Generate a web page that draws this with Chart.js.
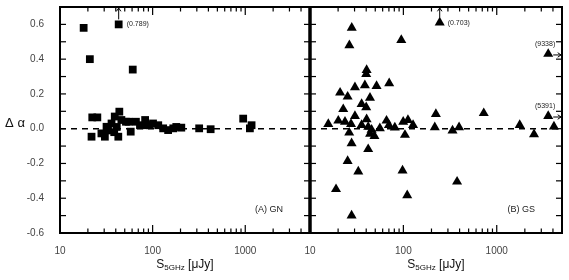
<!DOCTYPE html>
<html>
<head>
<meta charset="utf-8">
<script src="https://cdn.jsdelivr.net/npm/chart.js@4.4.1/dist/chart.umd.min.js"></script>
<style>
  body { margin: 0; background: #fff; }
  #wrap { position: relative; width: 569px; height: 280px; }
  #wrap canvas { position: absolute; left: 0; top: 0; }
</style>
</head>
<body>
<div id="wrap">
  <canvas id="chart-gn" width="569" height="280" style="width:569px;height:280px"></canvas>
  <canvas id="chart-gs" width="569" height="280" style="width:569px;height:280px"></canvas>
</div>
<script>
/* data: S_5GHz [uJy] vs delta alpha */

const gnFlux  = [18, 21, 43, 61, 22.3, 25.3, 21.9, 28, 30.5, 31.8, 33, 36, 38.5, 39, 43.7, 42.6, 41, 46,
                 51.5, 58, 55, 66, 73, 83, 85, 93, 101, 115, 130, 147, 167, 180, 204, 318, 423, 950, 1122, 1170];
const gnDelta = [0.58, 0.40, 0.60, 0.34, 0.065, 0.065, -0.046, -0.027, -0.046, 0.011, -0.01, 0.03, -0.02, 0.07, 0.098, -0.046, 0.01, 0.05,
                 0.04, -0.017, 0.04, 0.04, 0.02, 0.05, 0.02, 0.02, 0.03, 0.02, 0.002, -0.008, 0.002, 0.01, 0.006, 0.002, -0.003, 0.058, 0.002, 0.02];

const gsFlux  = [28, 26.4, 95, 245, 3560, 3560, 40.4, 40, 30.3, 38.7, 51.6, 70.5, 21, 25.3, 43.9, 35.7, 40, 22.7,
                 30.3, 15.7, 20.1, 23.7, 27.5, 35.7, 40.4, 42, 45.7, 44, 49, 56, 66, 70, 81, 99.6, 112, 127,
                 104, 26.3, 27.9, 42, 25.3, 32.9, 98, 19, 110, 27.9, 223, 217, 336, 395, 376, 726, 1762, 2508, 4100];
const gsDelta = [0.58, 0.48, 0.51, 0.61, 0.43, 0.073, 0.337, 0.314, 0.238, 0.25, 0.245, 0.261, 0.207, 0.184, 0.178, 0.142, 0.123, 0.112,
                 0.073, 0.027, 0.046, 0.04, 0.027, 0.021, 0.054, 0.01, -0.007, -0.03, -0.042, 0.002, 0.046, 0.02, 0.006, 0.04, 0.05, 0.021,
                 -0.036, -0.023, -0.084, -0.118, -0.186, -0.247, -0.241, -0.348, -0.383, -0.50, 0.084, 0.008, -0.011, 0.008, -0.305, 0.089, 0.021, -0.032, 0.012];

// off-scale sources: arrow + true value
const gnArrows = [{ x: 43, y: 0.60, dir: 'up', text: '(0.789)' }];
const gsArrows = [
  { x: 245,  y: 0.61,  dir: 'up',    text: '(0.703)' },
  { x: 3560, y: 0.43,  dir: 'right', text: '(9338)' },
  { x: 3560, y: 0.073, dir: 'right', text: '(5391)' }
];

const xTickLabels = [10, 100, 1000];
const yTickLabels = [-0.6, -0.4, -0.2, 0.0, 0.2, 0.4, 0.6];
const xRange = [10, 5000];
const yRange = [-0.6, 0.7];

const FONT = "'Liberation Sans', Arial, Helvetica, sans-serif";

function line(ctx, x1, y1, x2, y2) {
  ctx.beginPath(); ctx.moveTo(x1, y1); ctx.lineTo(x2, y2); ctx.stroke();
}

function arrow(ctx, x1, y1, x2, y2) {
  const ang = Math.atan2(y2 - y1, x2 - x1), h = 4;
  line(ctx, x1, y1, x2, y2);
  ctx.beginPath();
  ctx.moveTo(x2 - h * Math.cos(ang - 0.6), y2 - h * Math.sin(ang - 0.6));
  ctx.lineTo(x2, y2);
  ctx.lineTo(x2 - h * Math.cos(ang + 0.6), y2 - h * Math.sin(ang + 0.6));
  ctx.stroke();
}

// keep the plot box exactly where the padding puts it
function noOverflow(s) {
  s.paddingTop = 0; s.paddingBottom = 0; s.paddingLeft = 0; s.paddingRight = 0;
}

/* frame, inward ticks, arrows and labels */
const panelFrame = {
  id: 'panelFrame',
  afterDatasetsDraw(chart, args, opts) {
    const { ctx, chartArea: a, scales: { x, y } } = chart;
    ctx.save();
    ctx.strokeStyle = '#000';
    ctx.fillStyle = '#000';

    // log ticks top and bottom
    ctx.lineWidth = 1.2;
    [10, 100, 1000].forEach(d => {
      for (let m = 1; m <= 9; m++) {
        const v = m * d;
        if (v > xRange[1]) break;
        const px = x.getPixelForValue(v);
        const len = m === 1 ? 8 : 4.5;
        line(ctx, px, a.bottom, px, a.bottom - len);
        line(ctx, px, a.top, px, a.top + len);
      }
    });

    // 0.1 ticks left and right
    for (let i = 0; i <= 13; i++) {
      const py = y.getPixelForValue(yRange[0] + i * 0.1);
      line(ctx, a.left, py, a.left + 6, py);
      line(ctx, a.right, py, a.right - 6, py);
    }

    // border
    ctx.lineWidth = 2;
    ctx.strokeRect(a.left, a.top, a.right - a.left, a.bottom - a.top);
    if (opts.thickLeft) {
      ctx.lineWidth = 3.5;
      line(ctx, a.left, a.top - 1, a.left, a.bottom + 1);
    }

    // arrows
    ctx.lineWidth = 1;
    ctx.font = '7px ' + FONT;
    ctx.fillStyle = '#222';
    (opts.arrows || []).forEach(p => {
      const px = x.getPixelForValue(p.x), py = y.getPixelForValue(p.y);
      if (p.dir === 'up') {
        arrow(ctx, px, py - 5, px, a.top + 1);
        ctx.textAlign = 'left'; ctx.textBaseline = 'middle';
        ctx.fillText(p.text, px + 8, py);
      } else {
        arrow(ctx, px + 5, py + 1, a.right - 1, py + 1);
        ctx.textAlign = 'right'; ctx.textBaseline = 'middle';
        ctx.fillText(p.text, px + 7, py - 10);
      }
    });

    // panel label
    ctx.font = '9px ' + FONT;
    ctx.textAlign = 'right'; ctx.textBaseline = 'middle';
    ctx.fillText(opts.label, a.right - 27, a.bottom - 23);

    // x title with subscript
    ctx.fillStyle = '#111';
    ctx.textAlign = 'left'; ctx.textBaseline = 'alphabetic';
    const big = '12px ' + FONT, small = '8px ' + FONT;
    ctx.font = big; const w1 = ctx.measureText('S').width, w3 = ctx.measureText(' [μJy]').width;
    ctx.font = small; const w2 = ctx.measureText('5GHz').width;
    let tx = (a.left + a.right) / 2 - (w1 + w2 + w3) / 2;
    const ty = 268;
    ctx.font = big; ctx.fillText('S', tx, ty); tx += w1;
    ctx.font = small; ctx.fillText('5GHz', tx, ty + 2); tx += w2;
    ctx.font = big; ctx.fillText(' [μJy]', tx, ty);

    if (opts.yTitle) {
      ctx.font = '13px ' + FONT;
      ctx.textAlign = 'center'; ctx.textBaseline = 'middle';
      ctx.fillText('Δ α', 15, 123);
    }
    ctx.restore();
  }
};

function makePanel(id, flux, delta, style, radius, frameOpts, padding, showY) {
  const pts = flux.map((v, i) => ({ x: v, y: delta[i] }));
  return new Chart(document.getElementById(id), {
    type: 'scatter',
    data: {
      datasets: [
        {
          data: pts,
          pointStyle: style,
          pointRadius: radius,
          pointBackgroundColor: '#000',
          pointBorderWidth: 0
        },
        {
          type: 'line',
          data: [{ x: xRange[0], y: 0 }, { x: xRange[1], y: 0 }],
          borderColor: '#000',
          borderWidth: 1.5,
          borderDash: [6, 5],
          pointRadius: 0
        }
      ]
    },
    options: {
      responsive: false,
      animation: false,
      layout: { padding: padding },
      plugins: {
        legend: { display: false },
        tooltip: { enabled: false },
        panelFrame: frameOpts
      },
      scales: {
        x: {
          type: 'logarithmic',
          min: xRange[0], max: xRange[1],
          grid: { display: false },
          border: { display: false },
          afterBuildTicks: s => { s.ticks = xTickLabels.map(v => ({ value: v })); },
          afterFit: s => { s.height = 47; noOverflow(s); },
          ticks: {
            autoSkip: false, maxRotation: 0, padding: 4,
            color: '#444', font: { family: FONT, size: 10 },
            callback: v => String(v)
          }
        },
        y: {
          display: showY,
          min: yRange[0], max: yRange[1],
          grid: { display: false },
          border: { display: false },
          afterBuildTicks: s => { s.ticks = yTickLabels.map(v => ({ value: v })); },
          afterFit: s => { s.width = showY ? 60 : 0; noOverflow(s); },
          ticks: {
            padding: 8,
            color: '#444', font: { family: FONT, size: 10 },
            callback: v => v.toFixed(1)
          }
        }
      }
    },
    plugins: [panelFrame]
  });
}

makePanel('chart-gn', gnFlux, gnDelta, 'rect', 5.5,
  { label: '(A) GN', arrows: gnArrows, yTitle: true },
  { left: 0, right: 259, top: 7, bottom: 0 }, true);

makePanel('chart-gs', gsFlux, gsDelta, 'triangle', 5.8,
  { label: '(B) GS', arrows: gsArrows, thickLeft: true },
  { left: 310, right: 7, top: 7, bottom: 0 }, false);
</script>
</body>
</html>
